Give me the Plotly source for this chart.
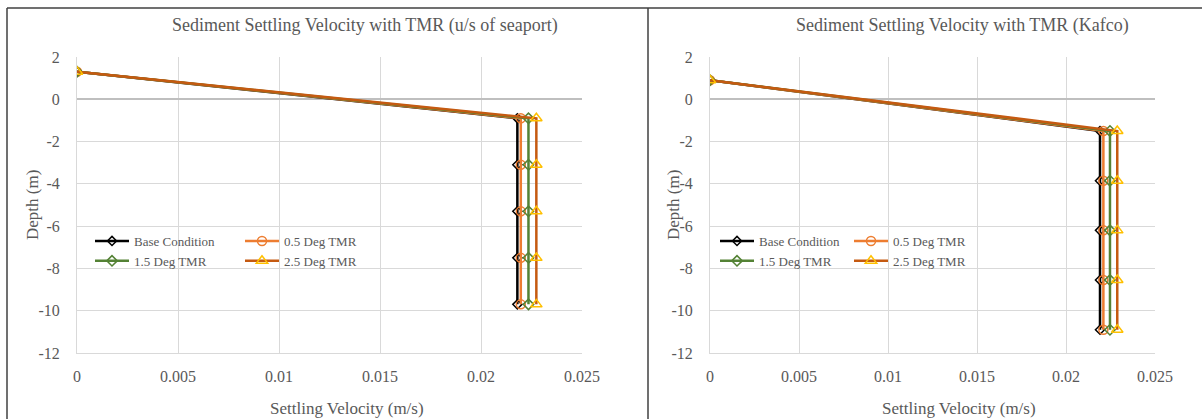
import plotly.graph_objects as go

# ---------------- data ----------------
series_names = ["Base Condition", "0.5 Deg TMR", "1.5 Deg TMR", "2.5 Deg TMR"]

# u/s of seaport (left panel)
depth_seaport = [1.3, -0.9, -3.1, -5.3, -7.5, -9.7]
vel_seaport_base = [0.0, 0.02180, 0.02180, 0.02180, 0.02180, 0.02180]
vel_seaport_05 = [0.0, 0.02197, 0.02197, 0.02197, 0.02197, 0.02197]
vel_seaport_15 = [0.0, 0.02235, 0.02235, 0.02235, 0.02235, 0.02235]
vel_seaport_25 = [0.0, 0.02274, 0.02274, 0.02274, 0.02274, 0.02274]

# Kafco (right panel)
depth_kafco = [0.9, -1.5, -3.85, -6.2, -8.55, -10.9]
vel_kafco_base = [0.0, 0.02191, 0.02191, 0.02191, 0.02191, 0.02191]
vel_kafco_05 = [0.0, 0.02210, 0.02210, 0.02210, 0.02210, 0.02210]
vel_kafco_15 = [0.0, 0.02247, 0.02247, 0.02247, 0.02247, 0.02247]
vel_kafco_25 = [0.0, 0.02288, 0.02288, 0.02288, 0.02288, 0.02288]

x_tickvals = [0, 0.005, 0.01, 0.015, 0.02, 0.025]
x_ticktext = ["0", "0.005", "0.01", "0.015", "0.02", "0.025"]
y_tickvals = [2, 0, -2, -4, -6, -8, -10, -12]
y_ticktext = ["2", "0", "-2", "-4", "-6", "-8", "-10", "-12"]

titles = ["Sediment Settling Velocity with TMR (u/s of seaport)",
          "Sediment Settling Velocity with TMR (Kafco)"]
x_title = "Settling Velocity (m/s)"
y_title = "Depth (m)"

# ---------------- styling ----------------
W, H = 1202, 419
FONT = "Liberation Serif"
GRAY = "#595959"
GRID = "#D9D9D9"

styles = [
    dict(line=dict(color="#000000", width=2.5),
         marker=dict(symbol="diamond-open", size=7, color="#000000", line=dict(width=1.5))),
    dict(line=dict(color="#ED7D31", width=2.5),
         marker=dict(symbol="circle-open", size=9, color="#ED7D31", line=dict(width=1.5))),
    dict(line=dict(color="#548235", width=2.5),
         marker=dict(symbol="diamond-open", size=8, color="#548235", line=dict(width=1.5))),
    dict(line=dict(color="#C55A11", width=2.5),
         marker=dict(symbol="triangle-up-open", size=10, color="#FFC000", line=dict(width=1.5))),
]

def px_x(px):
    return px / W

def px_y(py):
    return 1 - py / H

fig = go.Figure()

panels = [
    dict(depth=depth_seaport, vels=[vel_seaport_base, vel_seaport_05, vel_seaport_15, vel_seaport_25],
         xa="x", ya="y", legends=["legend", "legend2", "legend", "legend2"]),
    dict(depth=depth_kafco, vels=[vel_kafco_base, vel_kafco_05, vel_kafco_15, vel_kafco_25],
         xa="x2", ya="y2", legends=["legend3", "legend4", "legend3", "legend4"]),
]

for p in panels:
    for i, name in enumerate(series_names):
        fig.add_trace(go.Scatter(
            x=p["vels"][i], y=p["depth"], name=name, mode="lines+markers",
            xaxis=p["xa"], yaxis=p["ya"], legend=p["legends"][i],
            line=styles[i]["line"], marker=styles[i]["marker"],
        ))

# plot area pixel bounds
left_plot = (77, 582)
right_plot = (710, 1155)
top_px, bottom_px = 57, 353

axis_common_x = dict(range=[0, 0.025], tickvals=x_tickvals, ticktext=x_ticktext,
                     showgrid=True, gridcolor=GRID, gridwidth=1, zeroline=False,
                     showline=True, linecolor=GRID, linewidth=1, automargin=False,
                     tickfont=dict(family=FONT, size=16, color=GRAY),
                     ticks="", ticklabelstandoff=9)
axis_common_y = dict(range=[-12, 2], tickvals=y_tickvals, ticktext=y_ticktext,
                     showgrid=True, gridcolor=GRID, gridwidth=1,
                     zeroline=True, zerolinecolor="#BFBFBF", zerolinewidth=1.5,
                     showline=True, linecolor=GRID, linewidth=1, automargin=False,
                     tickfont=dict(family=FONT, size=16, color=GRAY),
                     ticks="", ticklabelstandoff=13)

fig.update_layout(
    width=W, height=H, autosize=False,
    margin=dict(l=0, r=0, t=0, b=0, pad=0, autoexpand=False),
    paper_bgcolor="white", plot_bgcolor="white",
    font=dict(family=FONT, color=GRAY),
    xaxis=dict(domain=[px_x(left_plot[0]), px_x(left_plot[1])], anchor="y", **axis_common_x),
    yaxis=dict(domain=[px_y(bottom_px), px_y(top_px)], anchor="x", **axis_common_y),
    xaxis2=dict(domain=[px_x(right_plot[0]), px_x(right_plot[1])], anchor="y2", **axis_common_x),
    yaxis2=dict(domain=[px_y(bottom_px), px_y(top_px)], anchor="x2", **axis_common_y),
)

legend_common = dict(bgcolor="rgba(0,0,0,0)", borderwidth=0,
                     font=dict(family=FONT, size=13, color=GRAY),
                     xanchor="left", yanchor="top", tracegroupgap=0,
                     itemwidth=34, traceorder="normal")
legend_top = px_y(226)
fig.update_layout(
    legend=dict(x=px_x(90), y=legend_top, **legend_common),
    legend2=dict(x=px_x(240), y=legend_top, **legend_common),
    legend3=dict(x=px_x(715), y=legend_top, **legend_common),
    legend4=dict(x=px_x(849), y=legend_top, **legend_common),
)

# titles and axis titles as annotations
ann = []
for cx, t in [(365, titles[0]), (962, titles[1])]:
    ann.append(dict(text=t, x=px_x(cx), y=px_y(25), xref="paper", yref="paper",
                    showarrow=False, xanchor="center", yanchor="middle",
                    font=dict(family=FONT, size=18, color=GRAY)))
for cx in [347, 959]:
    ann.append(dict(text=x_title, x=px_x(cx), y=px_y(408), xref="paper", yref="paper",
                    showarrow=False, xanchor="center", yanchor="middle",
                    font=dict(family=FONT, size=17, color=GRAY)))
for cx in [32, 673]:
    ann.append(dict(text=y_title, x=px_x(cx), y=px_y(205), xref="paper", yref="paper",
                    showarrow=False, xanchor="center", yanchor="middle", textangle=-90,
                    font=dict(family=FONT, size=17, color=GRAY)))
fig.update_layout(annotations=ann)

# panel borders
border = dict(color="#404040", width=1.5)
fig.add_shape(type="line", xref="paper", yref="paper", x0=px_x(7), x1=1, y0=px_y(8), y1=px_y(8), line=border)
fig.add_shape(type="line", xref="paper", yref="paper", x0=px_x(7), x1=px_x(7), y0=px_y(8), y1=0, line=border)
fig.add_shape(type="line", xref="paper", yref="paper", x0=px_x(648), x1=px_x(648), y0=px_y(8), y1=0, line=border)

fig.write_html("out.html")
